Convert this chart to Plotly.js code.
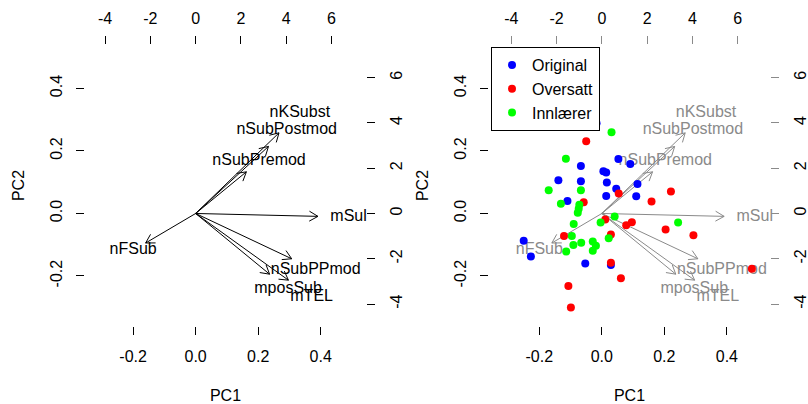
<!DOCTYPE html>
<html><head><meta charset="utf-8">
<script src="https://cdn.plot.ly/plotly-3.0.1.min.js"></script>
<style>html,body{margin:0;padding:0;background:#fff}#chart{width:808px;height:404px}</style>
</head><body><div id="chart"></div>
<script>
// Variable loadings (label positions, arrow-axis units)
const varNames = ["nKSubst","nSubPostmod","nSubPremod","mSul","nFSub","nSubPPmod","mposSub","mTEL"];
const loadPC1  = [4.60, 4.02, 2.80, 6.75, -2.76, 5.30, 4.08, 5.12];
const loadPC2  = [4.45, 3.70, 2.30, -0.16, -1.63, -2.50, -3.35, -3.68];

// Scores (PC1/PC2) by group
const groups = ["Original","Oversatt","Innlærer"];
const origPC1 = [-0.017,0.053,0.091,-0.067,0.005,0.014,-0.139,-0.067,0.016,0.114,0.046,0.014,0.110,-0.110,-0.250,-0.227,-0.053,0.029];
const origPC2 = [0.289,0.174,0.158,0.152,0.135,0.131,0.106,0.103,0.099,0.094,0.079,0.056,0.055,0.040,-0.087,-0.138,-0.160,-0.165];
const overPC1 = [-0.050,0.054,0.221,0.159,-0.058,0.011,0.096,0.078,0.204,0.293,-0.121,0.029,0.480,0.029,0.061,-0.107,-0.099];
const overPC2 = [0.231,0.064,0.070,0.038,0.036,-0.019,-0.028,-0.038,-0.051,-0.070,-0.072,-0.067,-0.177,-0.158,-0.207,-0.232,-0.301];
const innlPC1 = [0.031,-0.115,-0.170,-0.067,-0.131,-0.072,-0.074,-0.077,0.041,-0.004,0.244,-0.090,-0.096,0.022,-0.091,-0.066,-0.029,-0.019,-0.029,-0.114];
const innlPC2 = [0.260,0.175,0.074,0.074,0.031,0.028,0.015,0.002,-0.010,-0.029,-0.029,-0.034,-0.072,-0.079,-0.101,-0.094,-0.090,-0.103,-0.119,-0.122];

// Tick labels
const pcTickVals = [-0.2, 0, 0.2, 0.4];
const pcTickText = ["-0.2","0.0","0.2","0.4"];
const arTickVals = [-4,-2,0,2,4,6];
const arTickText = ["-4","-2","0","2","4","6"];

const W = 808, H = 404;
const RATIO = 13.8;
const FONT = {family: "Liberation Sans, Arial, sans-serif", size: 16, color: "#000"};
const GRAY = "#8a8a8a";

function arrowPath() {
  const xs = [], ys = [];
  const L = 0.44, a = Math.PI / 6;
  for (let i = 0; i < varNames.length; i++) {
    const tx = loadPC1[i] * 0.8, ty = loadPC2[i] * 0.8;
    const th = Math.atan2(ty, tx);
    xs.push(0, tx, null,
      tx - L * Math.cos(th - a), tx, tx - L * Math.cos(th + a), null);
    ys.push(0, ty, null,
      ty - L * Math.sin(th - a), ty, ty - L * Math.sin(th + a), null);
  }
  return {xs, ys};
}

const ap = arrowPath();
const traces = [];
// left panel
traces.push({type:"scatter", mode:"lines", x:ap.xs, y:ap.ys, xaxis:"x", yaxis:"y",
  line:{color:"#000", width:1}, showlegend:false, hoverinfo:"skip"});
traces.push({type:"scatter", mode:"text", x:loadPC1, y:loadPC2, text:varNames, xaxis:"x", yaxis:"y",
  textposition:"middle center", textfont:FONT, cliponaxis:false, showlegend:false, hoverinfo:"skip"});
// empty trace so the left PC axes are drawn
traces.push({type:"scatter", mode:"markers", x:[null], y:[null], xaxis:"x2", yaxis:"y2",
  showlegend:false, hoverinfo:"skip"});
// right panel
traces.push({type:"scatter", mode:"lines", x:ap.xs, y:ap.ys, xaxis:"x3", yaxis:"y3",
  line:{color:GRAY, width:1}, showlegend:false, hoverinfo:"skip"});
traces.push({type:"scatter", mode:"text", x:loadPC1, y:loadPC2, text:varNames, xaxis:"x3", yaxis:"y3",
  textposition:"middle center", textfont:Object.assign({}, FONT, {color:GRAY}), cliponaxis:false,
  showlegend:false, hoverinfo:"skip"});
// points
const cols = ["#0000FF","#FF0000","#00FF00"];
const px = [origPC1, overPC1, innlPC1], py = [origPC2, overPC2, innlPC2];
for (let g = 0; g < 3; g++) {
  traces.push({type:"scatter", mode:"markers", name:groups[g], x:px[g], y:py[g], xaxis:"x4", yaxis:"y4",
    marker:{color:cols[g], size:8, line:{width:0}}, cliponaxis:false});
}

// geometry (px)
const boxT = 45, boxB = 326;
const yDom = [(H - boxB) / H, (H - boxT) / H];
const leftDom = [85 / W, 366 / W];
const rightDom = [489 / W, 770 / W];
const pcY = [-0.360, 0.539];
const pcXL = [-0.354, 0.545];
const pcXR = [-0.361, 0.538];

function base(extra) {
  return Object.assign({showgrid:false, zeroline:false, showline:false, ticks:"outside",
    ticklen:8, tickwidth:1, tickcolor:"#000", tickfont:FONT, fixedrange:true}, extra);
}
function arRange(r) { return [r[0] * RATIO, r[1] * RATIO]; }

const layout = {
  width: W, height: H, margin:{l:0,r:0,t:0,b:0}, paper_bgcolor:"#fff", plot_bgcolor:"rgba(0,0,0,0)",
  font: FONT, showlegend:true,
  legend:{x:491/W, y:(H-47)/H, xanchor:"left", yanchor:"top", bgcolor:"#fff", bordercolor:"#000",
    borderwidth:1, font:FONT, tracegroupgap:0},
  // left panel: arrow axes (base)
  xaxis: base({domain:leftDom, range:arRange(pcXL), side:"top", anchor:"y",
    tickvals:arTickVals, ticktext:arTickText, ticklabelstandoff:6}),
  yaxis: base({domain:yDom, range:arRange(pcY), side:"right", anchor:"x", tickangle:-90,
    tickvals:arTickVals, ticktext:arTickText, ticklabelstandoff:8}),
  // left panel PC axes
  xaxis2: base({range:pcXL, overlaying:"x", side:"bottom", anchor:"y",
    tickvals:pcTickVals, ticktext:pcTickText, ticklabelstandoff:8,
    title:{text:"PC1", font:FONT, standoff:28}}),
  yaxis2: base({range:pcY, overlaying:"y", side:"left", anchor:"x", tickangle:-90,
    tickvals:pcTickVals, ticktext:pcTickText, ticklabelstandoff:8,
    title:{text:"PC2", font:FONT, standoff:18}}),
  // right panel arrow axes (base)
  xaxis3: base({domain:rightDom, range:arRange(pcXR), side:"top", anchor:"y3", tickcolor:GRAY,
    tickvals:arTickVals, ticktext:arTickText, ticklabelstandoff:6}),
  yaxis3: base({domain:yDom, range:arRange(pcY), side:"right", anchor:"x3", tickangle:-90, tickcolor:GRAY,
    tickvals:arTickVals, ticktext:arTickText, ticklabelstandoff:8}),
  xaxis4: base({range:pcXR, overlaying:"x3", side:"bottom", anchor:"y3",
    tickvals:pcTickVals, ticktext:pcTickText, ticklabelstandoff:8,
    title:{text:"PC1", font:FONT, standoff:28}}),
  yaxis4: base({range:pcY, overlaying:"y3", side:"left", anchor:"x3", tickangle:-90,
    tickvals:pcTickVals, ticktext:pcTickText, ticklabelstandoff:8,
    title:{text:"PC2", font:FONT, standoff:18}})
};

Plotly.newPlot("chart", traces, layout, {staticPlot:true, displayModeBar:false});
</script></body></html>
